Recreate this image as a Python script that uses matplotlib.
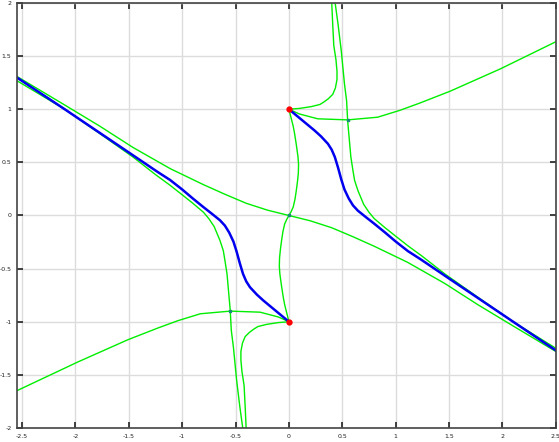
import numpy as np
import matplotlib.pyplot as plt

# points (x, y)
# blue branches
blue_1_x = [0, 0.06, 0.12, 0.18, 0.24, 0.30, 0.365, 0.40, 0.43, 0.46, 0.49, 0.52, 0.56, 0.60, 0.646, 0.72, 0.80, 0.90, 1.00, 1.114, 1.23, 1.48, 1.79, 2.10, 2.50]
blue_1_y = [1, 0.95, 0.90, 0.85, 0.80, 0.745, 0.675, 0.62, 0.55, 0.45, 0.34, 0.245, 0.16, 0.095, 0.045, -0.015, -0.078, -0.16, -0.245, -0.335, -0.41, -0.58, -0.79, -1.00, -1.27]
blue_2_x = [0, -0.06, -0.12, -0.18, -0.24, -0.30, -0.365, -0.40, -0.43, -0.46, -0.49, -0.52, -0.56, -0.60, -0.646, -0.72, -0.80, -0.90, -1.00, -1.114, -1.23, -1.48, -1.79, -2.10, -2.55]
blue_2_y = [-1, -0.95, -0.90, -0.85, -0.80, -0.745, -0.675, -0.62, -0.55, -0.45, -0.34, -0.245, -0.16, -0.095, -0.045, 0.015, 0.078, 0.16, 0.245, 0.335, 0.41, 0.58, 0.79, 1.00, 1.30]

# green curves
a_x = [-2.55, -2.10, -1.77, -1.46, -1.11, -0.80, -0.60, -0.40, -0.20, 0, 0.20, 0.40, 0.60, 0.80, 1.11, 1.46, 1.77, 2.10, 2.55]
a_y = [1.31, 1.04, 0.84, 0.64, 0.44, 0.29, 0.20, 0.115, 0.05, 0, -0.05, -0.115, -0.20, -0.29, -0.44, -0.64, -0.84, -1.04, -1.31]

g_x = [0, 0.02, 0.04, 0.053, 0.07, 0.085, 0.09, 0.088, 0.08, 0.069, 0.056, 0.04, 0.02, 0,
       -0.02, -0.04, -0.056, -0.069, -0.08, -0.088, -0.09, -0.085, -0.07, -0.053, -0.04, -0.02, 0]
g_y = [1, 0.92, 0.84, 0.77, 0.66, 0.55, 0.48, 0.40, 0.32, 0.235, 0.15, 0.08, 0.035, 0,
       -0.035, -0.08, -0.15, -0.235, -0.32, -0.40, -0.48, -0.55, -0.66, -0.77, -0.84, -0.92, -1]

d_1_x = [0.43, 0.46, 0.49, 0.52, 0.54, 0.55, 0.565, 0.58, 0.60, 0.615, 0.646, 0.70, 0.75, 0.80, 0.90, 1.00, 1.114, 1.25, 1.46, 1.77, 2.10, 2.50]
d_1_y = [2.02, 1.80, 1.55, 1.24, 1.08, 0.89, 0.72, 0.55, 0.42, 0.33, 0.235, 0.105, 0.03, -0.03, -0.115, -0.195, -0.285, -0.385, -0.55, -0.77, -1.00, -1.25]
d_2_x = [-0.43, -0.46, -0.49, -0.52, -0.54, -0.55, -0.565, -0.58, -0.60, -0.615, -0.646, -0.70, -0.75, -0.80, -0.90, -1.00, -1.114, -1.25, -1.46, -1.77, -2.10, -2.55]
d_2_y = [-2.02, -1.80, -1.55, -1.24, -1.08, -0.89, -0.72, -0.55, -0.42, -0.33, -0.235, -0.105, -0.03, 0.03, 0.115, 0.195, 0.285, 0.385, 0.55, 0.77, 1.00, 1.27]

e_1_x = [0, 0.10, 0.21, 0.29, 0.33, 0.37, 0.41, 0.435, 0.45, 0.45, 0.44, 0.42, 0.41, 0.40]
e_1_y = [1, 1.008, 1.025, 1.045, 1.07, 1.10, 1.14, 1.20, 1.28, 1.36, 1.47, 1.60, 1.80, 2.02]
e_2_x = [0, -0.10, -0.21, -0.29, -0.33, -0.37, -0.41, -0.435, -0.45, -0.45, -0.44, -0.42, -0.41, -0.40]
e_2_y = [-1, -1.008, -1.025, -1.045, -1.07, -1.10, -1.14, -1.20, -1.28, -1.36, -1.47, -1.60, -1.80, -2.02]

f_1_x = [0, 0.10, 0.27, 0.55, 0.83, 1.04, 1.23, 1.51, 1.98, 2.55]
f_1_y = [1, 0.955, 0.91, 0.90, 0.925, 0.99, 1.06, 1.17, 1.38, 1.66]
f_2_x = [0, -0.10, -0.27, -0.55, -0.83, -1.04, -1.23, -1.51, -1.98, -2.55]
f_2_y = [-1, -0.955, -0.91, -0.90, -0.925, -0.99, -1.06, -1.17, -1.38, -1.65]

# marked points
red_x = [0, 0]
red_y = [1, -1]
dot_x = [0.55, 0, -0.55]
dot_y = [0.90, 0, -0.90]

xticks = [-2.5, -2, -1.5, -1, -0.5, 0, 0.5, 1, 1.5, 2, 2.5]
yticks = [-2, -1.5, -1, -0.5, 0, 0.5, 1, 1.5, 2]

fig = plt.figure(figsize=(5.59, 4.42), dpi=100)
ax = fig.add_axes([0.0304, 0.0317, 0.964, 0.9615])

green = '#00ee00'
for xs, ys in [(a_x, a_y), (g_x, g_y), (d_1_x, d_1_y), (d_2_x, d_2_y),
               (e_1_x, e_1_y), (e_2_x, e_2_y), (f_1_x, f_1_y), (f_2_x, f_2_y)]:
    ax.plot(xs, ys, color=green, lw=1.0)

ax.plot(blue_1_x, blue_1_y, color='#0000ee', lw=1.8)
ax.plot(blue_2_x, blue_2_y, color='#0000ee', lw=1.8)

ax.plot(dot_x, dot_y, 's', color='#1a8a7a', ms=2, zorder=5)
ax.plot(red_x, red_y, 'o', color='#ff0000', ms=3.5, zorder=6)

ax.set_xlim(-2.547, 2.5)
ax.set_ylim(-2, 2)
ax.set_xticks(xticks)
ax.set_yticks(yticks)
ax.set_xticklabels([f'{t:g}' for t in xticks])
ax.set_yticklabels([f'{t:g}' for t in yticks])
ax.grid(True, color='#dcdcdc', lw=1.0)
ax.set_axisbelow(True)
ax.tick_params(direction='in', top=True, right=True, length=4, width=1.2,
               labelsize=4.5, pad=4, colors='#222222')
for s in ax.spines.values():
    s.set_color('#444444')
    s.set_linewidth(1.2)

fig.savefig('out.png', dpi=100)
